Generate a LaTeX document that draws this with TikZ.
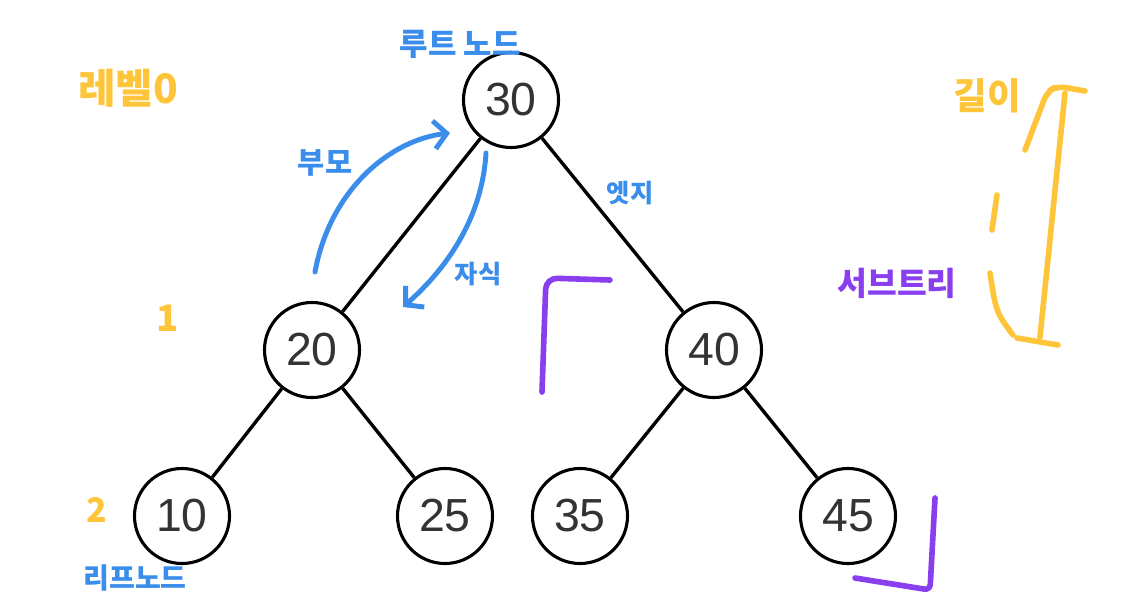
\documentclass[tikz,border=0pt]{standalone}
\usepackage{fontspec}
\setmainfont{Liberation Sans}
\newfontfamily\hand{Noto Sans CJK KR}
\usetikzlibrary{arrows.meta}
\definecolor{penblue}{HTML}{3A8DEB}
\definecolor{penyellow}{HTML}{FFC53A}
\definecolor{penpurple}{HTML}{8A3FEF}

\begin{document}
\begin{tikzpicture}[
    x=0.025cm, y=-0.025cm,
    tnode/.style={circle, draw=black, line width=2.2pt, minimum size=2.375cm, inner sep=0pt,
                  text=black!80, font=\fontsize{33}{33}\selectfont},
    edge/.style={line width=2.4pt},
    pen/.style={line width=4pt, line cap=round, line join=round},
    memo/.style={font=\hand\bfseries\fontsize{#1}{#1}\selectfont},
    >={Straight Barb[length=9pt, width=20pt]}
]
    \useasboundingbox (0,0) rectangle (1132,613);
    \fill[white] (0,0) rectangle (1132,613);

    % 트리 노드 (7개)
    \node[tnode] (root) at (511,100) {30};  % 루트
    \node[tnode] (left) at (312,350) {20};
    \node[tnode] (right) at (714,350) {40};
    \node[tnode] (ll) at (182,516) {10};
    \node[tnode] (lr) at (445,516) {25};
    \node[tnode] (rl) at (580,516) {35};
    \node[tnode] (rr) at (848,516) {45};

    % 간선
    \draw[edge] (root) -- (left);
    \draw[edge] (root) -- (right);
    \draw[edge] (left) -- (ll);
    \draw[edge] (left) -- (lr);
    \draw[edge] (right) -- (rl);
    \draw[edge] (right) -- (rr);

    % 파란 메모
    \node[memo=22, text=penblue] (rootlbl) at (460,44) {루트 노드};
    \node[memo=20, text=penblue] (leaflbl) at (135,578) {리프노드};
    \node[memo=21, text=penblue] (parentlbl) at (325,163) {부모};
    \node[memo=18, text=penblue] (childlbl) at (478,274) {자식};
    \node[memo=18, text=penblue] (edgelbl) at (630,193) {엣지};

    % 1. 부모 쪽 화살표
    \coordinate (ps) at (315,272);
    \coordinate (pe) at (450,133);
    \draw[pen, penblue, line width=3.5pt, ->] (ps) .. controls (330,190) and (390,140) .. (pe);

    % 2. 자식 쪽 화살표
    \coordinate (cs) at (486,153);
    \coordinate (ce) at (403,307);
    \draw[pen, penblue, line width=3.5pt, ->] (cs) .. controls (482,220) and (445,270) .. (ce);

    % 노란 메모 (레벨, 길이)
    \node[memo=29, text=penyellow] (lv0) at (128,88) {레벨0};
    \node[memo=26, text=penyellow] (lv1) at (168,318) {1};
    \node[memo=24, text=penyellow] (lv2) at (97,510) {2};
    \node[memo=26, text=penyellow] (depthlbl) at (987,96) {길이};

    \draw[pen, penyellow, rounded corners=6pt] (1025,150) -- (1047,92) -- (1057,86) -- (1085,91);
    \draw[pen, penyellow] (1065,93) -- (1040,337);
    \draw[pen, penyellow] (997,195) -- (992,230);
    \draw[pen, penyellow] (990,273) .. controls (996,312) .. (1013,335);
    \draw[pen, penyellow] (1017,338) -- (1058,345);

    % 보라 메모 (서브트리)
    \node[memo=23, text=penpurple] (sublbl) at (897,283) {서브트리};
    \draw[pen, penpurple, rounded corners=8pt] (542,392) -- (546,278) -- (610,280);
    \draw[pen, penpurple, rounded corners=4pt] (935,498) -- (930,590) -- (855,578);

\end{tikzpicture}
\end{document}
